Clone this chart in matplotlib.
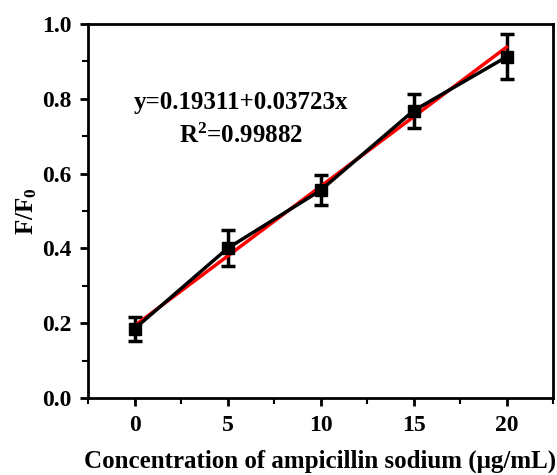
import numpy as np
import matplotlib.pyplot as plt
from matplotlib.ticker import MultipleLocator

plt.rcParams['font.family'] = ['Liberation Serif', 'DejaVu Serif']
plt.rcParams['font.weight'] = 'bold'
plt.rcParams['mathtext.fontset'] = 'custom'
plt.rcParams['mathtext.rm'] = 'Liberation Serif:bold'
plt.rcParams['mathtext.it'] = 'Liberation Serif:bold'
plt.rcParams['mathtext.bf'] = 'Liberation Serif:bold'

# Data
konsentrasi = [0, 5, 10, 15, 20]
rasio_F = [0.185, 0.400, 0.555, 0.768, 0.912]
galat = [0.032, 0.048, 0.040, 0.045, 0.060]

# Linear fit endpoints
fit_x = [0, 20]
fit_y = [0.193, 0.938]

fig = plt.figure(figsize=(5.57, 4.75), dpi=100)
ax = fig.add_axes([88 / 557, 77 / 475, 465 / 557, 374 / 475])

ax.errorbar(konsentrasi, rasio_F, yerr=galat, color='black', lw=2.5,
            marker='s', markersize=8, capsize=5, capthick=2.5, elinewidth=2.5)
ax.plot(fit_x, fit_y, color='red', lw=2.5)

ax.text(5.7, 0.79, 'y=0.19311+0.03723x', ha='center', va='center', fontsize=18, fontweight='bold')
ax.text(5.7, 0.702, 'R$^2$=0.99882', ha='center', va='center', fontsize=18, fontweight='bold')

ax.set_xlim(-2.5, 22.5)
ax.set_ylim(0, 1.0)
ax.xaxis.set_major_locator(MultipleLocator(5))
ax.xaxis.set_minor_locator(MultipleLocator(2.5))
ax.yaxis.set_major_locator(MultipleLocator(0.2))
ax.yaxis.set_minor_locator(MultipleLocator(0.1))
ax.set_yticklabels([f'{v:.1f}' for v in ax.get_yticks()])

for s in ax.spines.values():
    s.set_linewidth(2)
ax.tick_params(which='major', direction='out', length=6, width=2, labelsize=17, pad=6)
ax.tick_params(which='minor', direction='out', length=4, width=1.5)

ax.set_xlabel('Concentration of ampicillin sodium (μg/mL)', fontsize=18, fontweight='bold', labelpad=10)
ax.set_ylabel('F/F$_0$', fontsize=18, fontweight='bold', labelpad=2)

fig.savefig('out.png', dpi=100)
